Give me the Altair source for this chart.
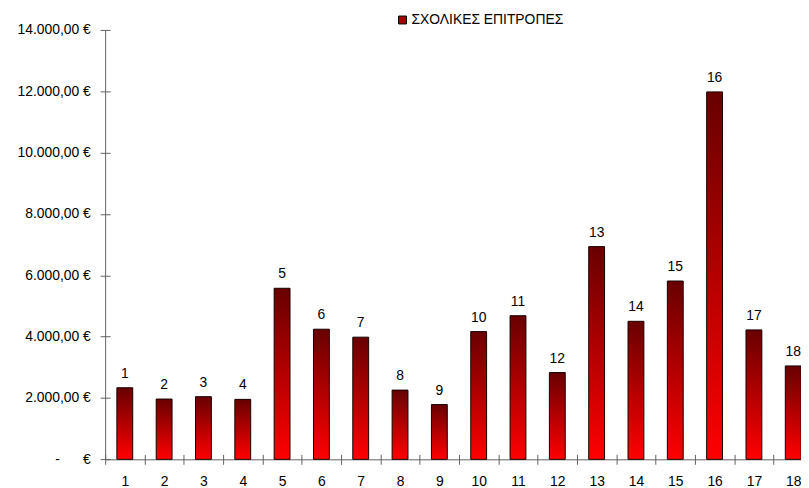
import altair as alt
import pandas as pd

categories = ["1", "2", "3", "4", "5", "6", "7", "8", "9", "10",
              "11", "12", "13", "14", "15", "16", "17", "18"]
values = [2334, 1965, 2043, 1955, 5577, 4242, 3983, 2257, 1785, 4164,
          4682, 2829, 6935, 4500, 5813, 11979, 4219, 3045]
series_name = "ΣΧΟΛΙΚΕΣ ΕΠΙΤΡΟΠΕΣ"
y_ticks = [0, 2000, 4000, 6000, 8000, 10000, 12000, 14000]

df = pd.DataFrame({"cat": categories, "value": values, "series": series_name})

FONT = "Liberation Sans"
FS = 14
NB = "\u00a0"
label_expr = (
    "datum.value == 0 ? '-" + NB * 6 + "€' : "
    "replace(replace(replace(format(datum.value, ',.2f'), ',', '#'), '.', ','), '#', '.') + '"
    + NB + "€'"
)
AX = "#606060"

x_scale = alt.Scale(domain=categories, range=[0, 714], paddingInner=0, paddingOuter=0)
y_scale = alt.Scale(domain=[0, 14000], nice=False, zero=True)

grad = alt.Gradient(
    gradient="linear", x1=0, y1=0, x2=0, y2=1,
    stops=[alt.GradientStop(color="#680000", offset=0),
           alt.GradientStop(color="#ff0000", offset=1)],
)

bars = alt.Chart(df).mark_bar(color=grad, stroke="#150000", strokeWidth=1, size=16).encode(
    x=alt.X("cat:N", scale=x_scale, sort=categories,
            axis=alt.Axis(orient="bottom", title=None, labelAngle=0, tickBand="extent",
                          tickSize=5, labelPadding=10, domainColor=AX, tickColor=AX,
                          labelFont=FONT, labelFontSize=FS, labelColor="#000")),
    y=alt.Y("value:Q", scale=y_scale,
            axis=alt.Axis(orient="left", title=None, values=y_ticks, grid=False,
                          tickSize=5, labelPadding=10, labelExpr=label_expr,
                          domainColor=AX, tickColor=AX, labelFont=FONT,
                          labelFontSize=FS, labelColor="#000")),
)

labels = alt.Chart(df).mark_text(dy=-10, baseline="alphabetic", font=FONT,
                                 fontSize=FS, color="#000").encode(
    x=alt.X("cat:N", scale=x_scale, sort=categories,
            axis=alt.Axis(orient="bottom", offset=-5, title=None, tickBand="extent",
                          tickSize=5, domain=False, labels=False, tickColor=AX)),
    y=alt.Y("value:Q", scale=y_scale,
            axis=alt.Axis(orient="left", offset=-5, title=None, values=y_ticks,
                          grid=False, tickSize=5, domain=False, labels=False,
                          tickColor=AX)),
    text="cat:N",
)

legend_layer = alt.Chart(df).transform_filter("false").mark_square(opacity=1).encode(
    color=alt.Color("series:N",
                    scale=alt.Scale(domain=[series_name], range=["#a80000"]),
                    legend=alt.Legend(title=None, orient="none", legendX=293, legendY=-17,
                                      symbolType="square", symbolSize=64,
                                      symbolOpacity=1,
                                      symbolStrokeColor="#000", symbolStrokeWidth=1,
                                      labelFont=FONT, labelFontSize=FS, labelColor="#000",
                                      labelOffset=2, padding=0)),
)

chart = alt.layer(bars, labels, legend_layer).resolve_axis(
    x="independent", y="independent"
).properties(
    width=702, height=433.2,
    autosize=alt.AutoSizeParams(type="none"),
    padding={"left": 98, "top": 20, "right": 0, "bottom": 26},
).configure_view(stroke=None)

chart.save("out.html", embed_options={"renderer": "svg", "actions": False})
